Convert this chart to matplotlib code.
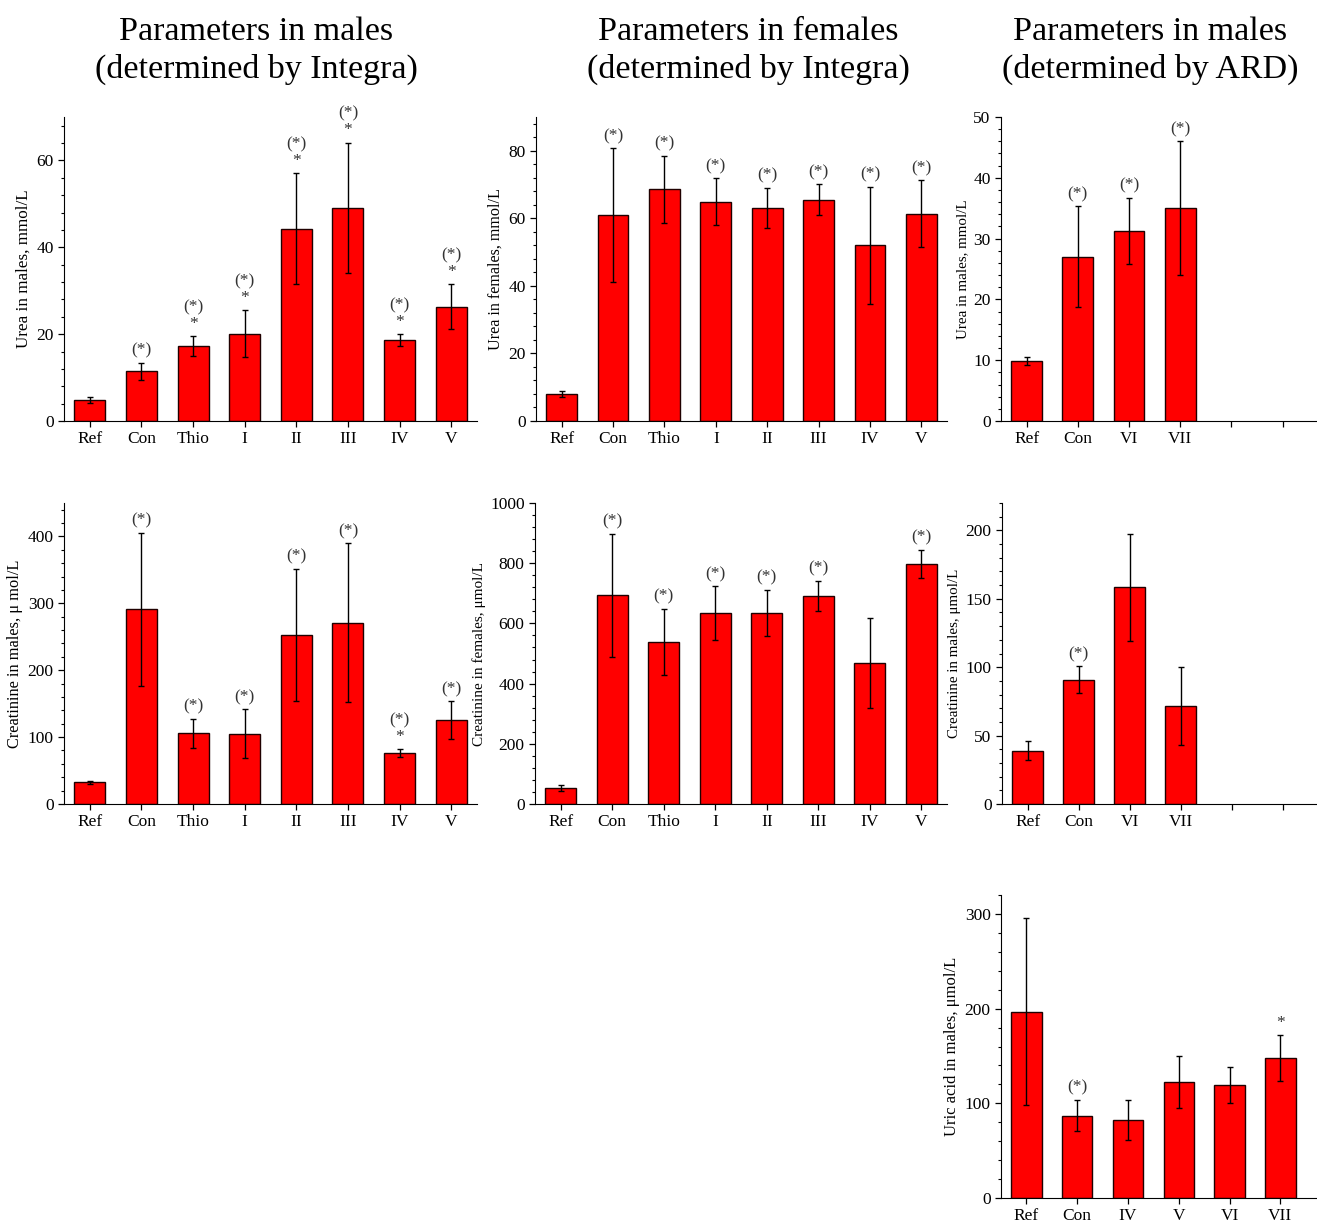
import numpy as np
import matplotlib
matplotlib.use('Agg')
from matplotlib import pyplot as plt
from matplotlib.ticker import AutoMinorLocator, MultipleLocator

plt.rcParams['font.family'] = ['Liberation Serif', 'DejaVu Serif']
plt.rcParams['font.size'] = 12

# --- data ---
groups_integra = ['Ref', 'Con', 'Thio', 'I', 'II', 'III', 'IV', 'V']
groups_ard = ['Ref', 'Con', 'VI', 'VII', '', '']
groups_uric = ['Ref', 'Con', 'IV', 'V', 'VI', 'VII']

urea_m = [4.8, 11.4, 17.2, 20.1, 44.3, 49.1, 18.7, 26.3]
urea_m_err = [0.7, 2.0, 2.3, 5.4, 12.8, 15.0, 1.4, 5.2]
urea_m_marks = ['', '(*)', '(*)\n*', '(*)\n*', '(*)\n*', '(*)\n*', '(*)\n*', '(*)\n*']

urea_f = [8.0, 61.0, 68.6, 64.9, 63.1, 65.5, 52.0, 61.4]
urea_f_err = [0.8, 19.8, 9.9, 6.9, 5.9, 4.6, 17.4, 9.9]
urea_f_marks = ['', '(*)', '(*)', '(*)', '(*)', '(*)', '(*)', '(*)']

urea_ard = [9.85, 27.0, 31.3, 35.0]
urea_ard_err = [0.7, 8.3, 5.4, 11.0]
urea_ard_marks = ['', '(*)', '(*)', '(*)']

crea_m = [32.3, 290.8, 105.7, 105.2, 253.1, 271.0, 75.9, 125.6]
crea_m_err = [2.0, 115.0, 22.0, 36.7, 98.5, 119.0, 5.7, 28.0]
crea_m_marks = ['', '(*)', '(*)', '(*)', '(*)', '(*)', '(*)\n*', '(*)']

crea_f = [53, 693, 539, 635, 635, 691, 468, 798]
crea_f_err = [10.5, 204, 109, 89, 76, 50, 150, 47]
crea_f_marks = ['', '(*)', '(*)', '(*)', '(*)', '(*)', '', '(*)']

crea_ard = [39.0, 90.9, 158.3, 71.6]
crea_ard_err = [6.7, 9.6, 39.2, 28.7]
crea_ard_marks = ['', '(*)', '', '']

uric = [196.7, 87.0, 82.1, 122.4, 119.2, 148.0]
uric_err = [98.7, 16.5, 21.2, 27.8, 19.1, 24.4]
uric_marks = ['', '(*)', '', '', '', '*']

W, H = 1317, 1222
fig = plt.figure(figsize=(W / 100, H / 100), dpi=100)


def make_ax(left, right, top, bottom):
    return fig.add_axes([left / W, 1 - bottom / H, (right - left) / W, (bottom - top) / H])


def draw(ax, labels, vals, errs, marks, ymax, ystep, ylabel, xmax, ylsize):
    x = np.arange(len(vals))
    ax.bar(x, vals, width=0.6, color='#ff0000', edgecolor='#200000', linewidth=1.0, zorder=2)
    ax.errorbar(x, vals, yerr=errs, fmt='none', ecolor='black', elinewidth=1.0,
                capsize=2.5, capthick=1.0, zorder=3)
    for xi, v, e, m in zip(x, vals, errs, marks):
        if m:
            ax.annotate(m, (xi, v + e), xytext=(0, 3), textcoords='offset points',
                        ha='center', va='bottom', fontsize=12.5, color='#333333',
                        linespacing=1.05, multialignment='center')
    ax.set_xticks(np.arange(len(labels)))
    ax.set_xticklabels(labels)
    ax.set_xlim(-0.5, xmax)
    ax.set_ylim(0, ymax)
    ax.yaxis.set_major_locator(MultipleLocator(ystep))
    ax.yaxis.set_minor_locator(AutoMinorLocator(5))
    ax.set_ylabel(ylabel, fontsize=ylsize, labelpad=3)
    ax.spines['top'].set_visible(False)
    ax.spines['right'].set_visible(False)
    ax.tick_params(axis='both', which='major', direction='out', length=4, width=0.9, labelsize=12.5)
    ax.tick_params(axis='y', which='minor', direction='out', length=2.2, width=0.8)
    ax.tick_params(axis='x', which='major', pad=3)


ax1 = make_ax(64, 477, 117, 421)
draw(ax1, groups_integra, urea_m, urea_m_err, urea_m_marks, 70, 20,
     'Urea in males, mmol/L', 7.5, 12.3)

ax2 = make_ax(536, 947, 117, 421)
draw(ax2, groups_integra, urea_f, urea_f_err, urea_f_marks, 90, 20,
     'Urea in females, mmol/L', 7.5, 11.6)

ax3 = make_ax(1001, 1317, 117, 421)
draw(ax3, groups_ard, urea_ard, urea_ard_err, urea_ard_marks, 50, 10,
     'Urea in males, mmol/L', 5.67, 10.8)

ax4 = make_ax(64, 477, 503, 804)
draw(ax4, groups_integra, crea_m, crea_m_err, crea_m_marks, 450, 100,
     'Creatinine in males, \u03bc mol/L', 7.5, 11.8)

ax5 = make_ax(535, 947, 503, 804)
draw(ax5, groups_integra, crea_f, crea_f_err, crea_f_marks, 1000, 200,
     'Creatinine in females, \u03bcmol/L', 7.5, 11)

ax6 = make_ax(1002, 1317, 503, 804)
draw(ax6, groups_ard, crea_ard, crea_ard_err, crea_ard_marks, 220, 50,
     'Creatinine in males, \u03bcmol/L', 5.67, 10.8)

ax7 = make_ax(1001, 1317, 895, 1198)
draw(ax7, groups_uric, uric, uric_err, uric_marks, 320, 100,
     'Uric acid in males, \u03bcmol/L', 5.72, 12)

# column titles
fig.text(256 / W, 1 - 51 / H, 'Parameters in males\n(determined by Integra)',
         ha='center', va='center', fontsize=24.5, linespacing=1.3)
fig.text(748 / W, 1 - 51 / H, 'Parameters in females\n(determined by Integra)',
         ha='center', va='center', fontsize=24.5, linespacing=1.3)
fig.text(1150 / W, 1 - 51 / H, 'Parameters in males\n(determined by ARD)',
         ha='center', va='center', fontsize=24.5, linespacing=1.3)

fig.savefig('out.png', dpi=100)
